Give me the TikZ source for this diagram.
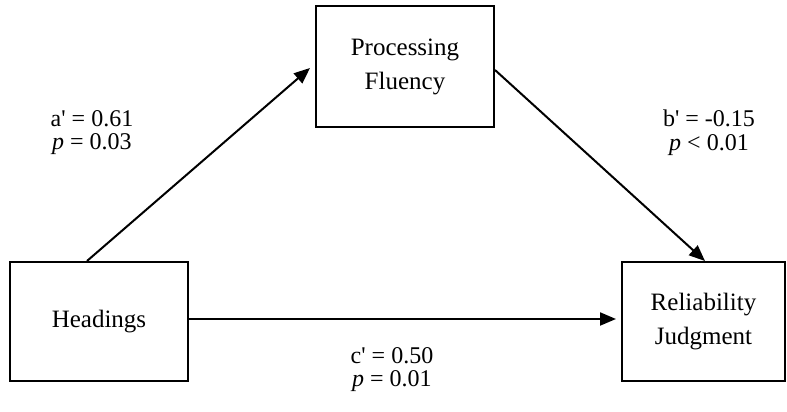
\documentclass[tikz,border=0pt]{standalone}
\usepackage{fontspec}
\setmainfont{Liberation Serif}
\usetikzlibrary{arrows.meta}
\begin{document}
\begin{tikzpicture}[x=1pt,y=1pt,
  box/.style={draw=black, line width=2pt, align=center, inner sep=0pt,
    font=\fontsize{25}{34}\selectfont},
  arr/.style={line width=2pt, -{Triangle[length=16pt,width=13pt]}},
  lab/.style={anchor=base, inner sep=0pt, font=\fontsize{24}{24}\selectfont}]
\useasboundingbox (0,0) rectangle (787,412);
\node[box, minimum width=178pt, minimum height=119pt] (h) at (99,90.5) {Headings};
\node[box, minimum width=178pt, minimum height=121pt] (p) at (405,345.5) {Processing\\Fluency};
\node[box, minimum width=163pt, minimum height=119pt] (r) at (703.5,90.5) {Reliability\\Judgment};
\draw[arr] ([xshift=-12pt]h.north) -- ([xshift=-5pt,yshift=-1.5pt]p.west);
\draw[arr] ([yshift=-3.5pt]p.east) -- ([xshift=1.5pt]r.north);
\draw[arr] ([yshift=2.5pt]h.east) -- ([xshift=-5pt,yshift=2.5pt]r.west);
\node[lab] (a1) at (92,285) {a\textquotesingle\ = 0.61};
\node[lab] (a2) at (92,262) {\textit{p} = 0.03};
\node[lab] (b1) at (709,285) {b\textquotesingle\ = -0.15};
\node[lab] (b2) at (709,261) {\textit{p} < 0.01};
\node[lab] (c1) at (392,48) {c\textquotesingle\ = 0.50};
\node[lab] (c2) at (392,25) {\textit{p} = 0.01};
\end{tikzpicture}
\end{document}
